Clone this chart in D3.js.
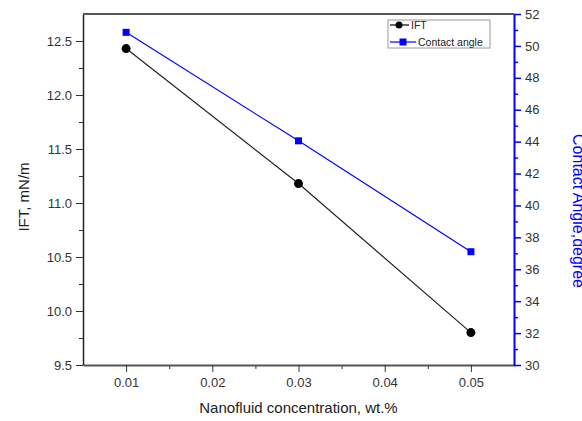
<!DOCTYPE html>
<html>
<head>
<meta charset="utf-8">
<script src="https://cdn.jsdelivr.net/npm/d3@7"></script>
<style>
body { margin: 0; background: #fff; }
text { font-family: "Liberation Sans", Arial, sans-serif; }
</style>
</head>
<body>
<div id="chart"></div>
<script>
// data
var concentration = [0.01, 0.03, 0.05];
var ift = [12.43, 11.18, 9.8];
var contactAngle = [50.85, 44.05, 37.1];
var xTicks = [0.01, 0.02, 0.03, 0.04, 0.05];
var xMinor = [0.015, 0.025, 0.035, 0.045];
var iftTicks = [9.5, 10.0, 10.5, 11.0, 11.5, 12.0, 12.5];
var iftMinor = [9.75, 10.25, 10.75, 11.25, 11.75, 12.25];
var angleTicks = [30, 32, 34, 36, 38, 40, 42, 44, 46, 48, 50, 52];
var angleMinor = [31, 33, 35, 37, 39, 41, 43, 45, 47, 49, 51];

var width = 582, height = 421;
var plotLeft = 83, plotRight = 514, plotTop = 14, plotBottom = 365;
var blue = '#0000ff';

var svg = d3.select('#chart').append('svg')
    .attr('width', width).attr('height', height);

var x = d3.scaleLinear().domain([0.005, 0.055]).range([plotLeft, plotRight]);
var yL = d3.scaleLinear().domain([9.5, 12.75]).range([plotBottom, plotTop]);
var yR = d3.scaleLinear().domain([30, 52]).range([plotBottom, plotTop]);

// minor ticks first
svg.append('g').attr('transform', 'translate(0,' + plotBottom + ')')
    .call(d3.axisBottom(x).tickValues(xMinor).tickSize(4).tickFormat(''))
    .call(function(g) { g.select('.domain').remove(); g.selectAll('line').attr('stroke', '#333'); });
svg.append('g').attr('transform', 'translate(' + plotLeft + ',0)')
    .call(d3.axisLeft(yL).tickValues(iftMinor).tickSize(4).tickFormat(''))
    .call(function(g) { g.select('.domain').remove(); g.selectAll('line').attr('stroke', '#333'); });
svg.append('g').attr('transform', 'translate(' + plotRight + ',0)')
    .call(d3.axisRight(yR).tickValues(angleMinor).tickSize(4).tickFormat(''))
    .call(function(g) { g.select('.domain').remove(); g.selectAll('line').attr('stroke', blue).attr('stroke-width', 1.5); });

// major axes
var xAxis = svg.append('g').attr('transform', 'translate(0,' + plotBottom + ')')
    .call(d3.axisBottom(x).tickValues(xTicks).tickSize(7).tickPadding(6).tickSizeOuter(0).tickFormat(d3.format('.2f')));
xAxis.select('.domain').attr('stroke', '#555').attr('stroke-width', 2);
xAxis.selectAll('line').attr('stroke', '#333');
xAxis.selectAll('text').attr('font-size', 13).attr('fill', '#333');

var yAxisL = svg.append('g').attr('transform', 'translate(' + plotLeft + ',0)')
    .call(d3.axisLeft(yL).tickValues(iftTicks).tickSize(7).tickPadding(4).tickSizeOuter(0).tickFormat(d3.format('.1f')));
yAxisL.select('.domain').attr('stroke', '#222').attr('stroke-width', 1.5);
yAxisL.selectAll('line').attr('stroke', '#333');
yAxisL.selectAll('text').attr('font-size', 13).attr('fill', '#333');

var yAxisR = svg.append('g').attr('transform', 'translate(' + plotRight + ',0)')
    .call(d3.axisRight(yR).tickValues(angleTicks).tickSize(7).tickPadding(4).tickSizeOuter(0));
yAxisR.select('.domain').attr('stroke', blue).attr('stroke-width', 2);
yAxisR.selectAll('line').attr('stroke', blue).attr('stroke-width', 1.5);
yAxisR.selectAll('text').attr('font-size', 13).attr('fill', '#333');

// top frame line
svg.append('line')
    .attr('x1', plotLeft).attr('x2', plotRight).attr('y1', plotTop).attr('y2', plotTop)
    .attr('stroke', '#555').attr('stroke-width', 2);

// axis titles
svg.append('text')
    .attr('x', (plotLeft + plotRight) / 2).attr('y', 413)
    .attr('text-anchor', 'middle').attr('font-size', 15).attr('fill', '#222')
    .text('Nanofluid concentration, wt.%');
svg.append('text')
    .attr('transform', 'translate(29,197) rotate(-90)')
    .attr('text-anchor', 'middle').attr('font-size', 15).attr('fill', '#222')
    .text('IFT, mN/m');
svg.append('text')
    .attr('transform', 'translate(573,211) rotate(90)')
    .attr('text-anchor', 'middle').attr('font-size', 16).attr('fill', blue)
    .text('Contact Angle,degree');

// series
var iftPts = concentration.map(function(c, i) { return [c, ift[i]]; });
var anglePts = concentration.map(function(c, i) { return [c, contactAngle[i]]; });

svg.append('path').datum(anglePts)
    .attr('fill', 'none').attr('stroke', blue).attr('stroke-width', 1.2)
    .attr('d', d3.line().x(function(d) { return x(d[0]); }).y(function(d) { return yR(d[1]); }));
svg.append('path').datum(iftPts)
    .attr('fill', 'none').attr('stroke', '#222').attr('stroke-width', 1.2)
    .attr('d', d3.line().x(function(d) { return x(d[0]); }).y(function(d) { return yL(d[1]); }));

svg.selectAll('rect.angle').data(anglePts).enter().append('rect')
    .attr('class', 'angle')
    .attr('x', function(d) { return x(d[0]) - 3.5; })
    .attr('y', function(d) { return yR(d[1]) - 3.5; })
    .attr('width', 7).attr('height', 7).attr('fill', blue);
svg.selectAll('circle.ift').data(iftPts).enter().append('circle')
    .attr('class', 'ift')
    .attr('cx', function(d) { return x(d[0]); })
    .attr('cy', function(d) { return yL(d[1]); })
    .attr('r', 4.5).attr('fill', '#000');

// legend
var legend = svg.append('g');
legend.append('rect')
    .attr('x', 388).attr('y', 20).attr('width', 102).attr('height', 28)
    .attr('fill', '#fff').attr('stroke', '#999').attr('stroke-width', 1);
legend.append('line').attr('x1', 390).attr('x2', 409).attr('y1', 25).attr('y2', 25)
    .attr('stroke', '#000').attr('stroke-width', 1.2);
legend.append('circle').attr('cx', 399).attr('cy', 25).attr('r', 3.5).attr('fill', '#000');
legend.append('text').attr('x', 411).attr('y', 29).attr('font-size', 10.5).attr('fill', '#222').text('IFT');
legend.append('line').attr('x1', 390).attr('x2', 416).attr('y1', 42).attr('y2', 42)
    .attr('stroke', blue).attr('stroke-width', 1.2);
legend.append('rect').attr('x', 399.5).attr('y', 38.5).attr('width', 7).attr('height', 7).attr('fill', blue);
legend.append('text').attr('x', 418).attr('y', 46).attr('font-size', 10.5).attr('fill', '#222').text('Contact angle');
</script>
</body>
</html>
